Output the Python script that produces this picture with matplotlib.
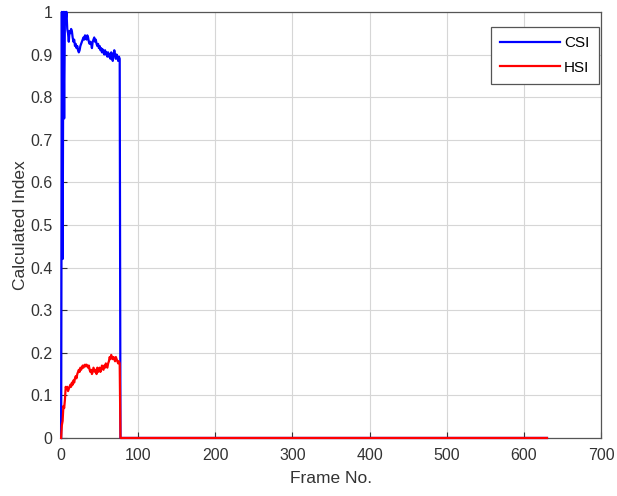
import numpy as np
import matplotlib.pyplot as plt

plt.rcParams["font.family"] = ["Liberation Sans", "DejaVu Sans"]

# per-frame index values while the object is in view (frames 0..76)
csi_active = [
    0.0, 1.0, 0.42, 1.0, 0.75, 1.0, 0.98, 1.0, 0.96, 0.95,
    0.93, 0.955, 0.95, 0.96, 0.955, 0.94, 0.93, 0.935, 0.92, 0.925,
    0.915, 0.92, 0.91, 0.905, 0.91, 0.92, 0.925, 0.93, 0.935, 0.94,
    0.935, 0.945, 0.94, 0.935, 0.945, 0.94, 0.93, 0.925, 0.93, 0.925,
    0.915, 0.93, 0.935, 0.94, 0.93, 0.935, 0.925, 0.92, 0.925, 0.915,
    0.92, 0.91, 0.915, 0.905, 0.912, 0.905, 0.90, 0.91, 0.90, 0.905,
    0.895, 0.905, 0.895, 0.90, 0.89, 0.905, 0.895, 0.885, 0.90, 0.91,
    0.90, 0.89, 0.90, 0.895, 0.885, 0.895, 0.89,
]
hsi_active = [
    0.0, 0.03, 0.04, 0.075, 0.07, 0.09, 0.12, 0.115, 0.12, 0.11,
    0.115, 0.12, 0.125, 0.12, 0.13, 0.125, 0.135, 0.13, 0.14, 0.145,
    0.14, 0.15, 0.155, 0.16, 0.155, 0.165, 0.16, 0.165, 0.17, 0.165,
    0.17, 0.172, 0.168, 0.172, 0.17, 0.165, 0.17, 0.16, 0.155, 0.16,
    0.15, 0.155, 0.165, 0.16, 0.155, 0.16, 0.15, 0.165, 0.155, 0.16,
    0.165, 0.155, 0.16, 0.17, 0.165, 0.16, 0.17, 0.165, 0.175, 0.17,
    0.165, 0.175, 0.18, 0.19, 0.185, 0.195, 0.19, 0.185, 0.19, 0.185,
    0.18, 0.19, 0.185, 0.18, 0.175, 0.18, 0.175,
]
n_frames = 631  # remaining frames are all zero

csi = np.zeros(n_frames)
hsi = np.zeros(n_frames)
csi[:len(csi_active)] = csi_active
hsi[:len(hsi_active)] = hsi_active
frames = np.arange(n_frames)

x_ticks = [0, 100, 200, 300, 400, 500, 600, 700]
y_ticks = [0, 0.1, 0.2, 0.3, 0.4, 0.5, 0.6, 0.7, 0.8, 0.9, 1]
y_tick_labels = ["0", "0.1", "0.2", "0.3", "0.4", "0.5", "0.6", "0.7", "0.8", "0.9", "1"]

fig = plt.figure(figsize=(6.17, 4.96), dpi=100)
ax = fig.add_axes([0.099, 0.117, 0.875, 0.859])

# lines sit above the spines so the zero stretch stays visible
ax.plot(frames, csi, color="#0000ff", lw=1.6, label="CSI", zorder=3, clip_on=False)
ax.plot(frames, hsi, color="#ff0000", lw=1.6, label="HSI", zorder=3, clip_on=False)

ax.set_xlim(0, 700)
ax.set_ylim(0, 1)
ax.set_xticks(x_ticks)
ax.set_yticks(y_ticks)
ax.set_yticklabels(y_tick_labels)
ax.grid(True, color="#d6d6d6", lw=0.8)
ax.set_axisbelow(True)
ax.tick_params(direction="in", length=4, labelsize=11.5, colors="#333333")
ax.tick_params(axis="x", pad=7)
ax.tick_params(axis="y", pad=6)
for s in ax.spines.values():
    s.set_color("#555555")
    s.set_linewidth(0.9)

ax.set_xlabel("Frame No.", fontsize=12.5, color="#333333", labelpad=6)
ax.set_ylabel("Calculated Index", fontsize=12.5, color="#333333", labelpad=2)

leg = ax.legend(loc="upper right", bbox_to_anchor=(1.0, 0.97), fontsize=11,
                fancybox=False, framealpha=1, edgecolor="#555555",
                handlelength=3.9, handletextpad=0.3, borderpad=0.6,
                labelspacing=0.7, borderaxespad=0.15)
leg.get_frame().set_linewidth(0.9)
leg.set_zorder(5)

fig.savefig("out.png", dpi=100)
